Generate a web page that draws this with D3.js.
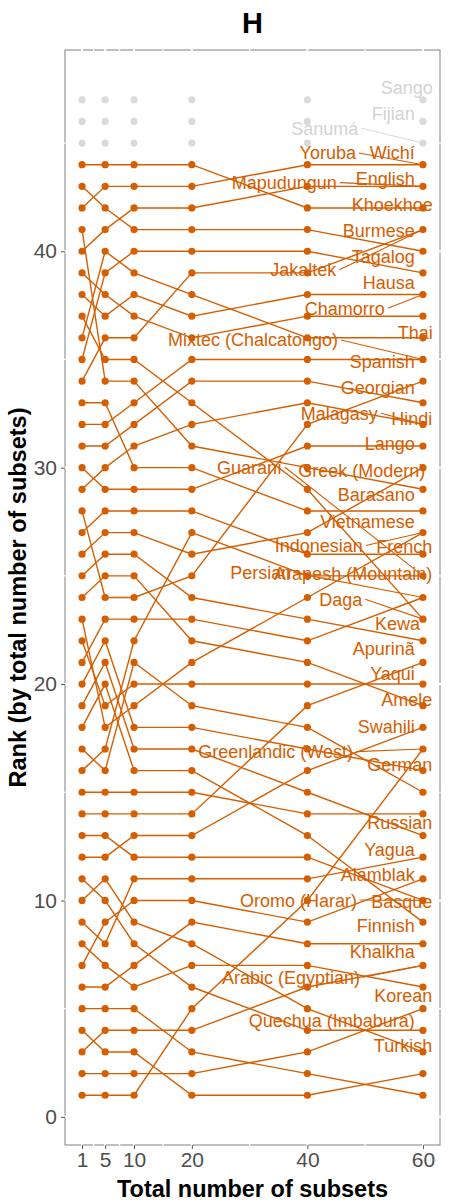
<!DOCTYPE html>
<html>
<head>
<meta charset="utf-8">
<script src="https://cdn.jsdelivr.net/npm/d3@7"></script>
<style>
  body { margin: 0; background: #fff; }
  text { font-family: "Liberation Sans", Arial, Helvetica, sans-serif; }
</style>
</head>
<body>
<svg id="chart" width="449" height="1203"></svg>
<script>
// Total number of subsets sampled (x positions)
const subsetTotals = [1, 5, 10, 20, 40, 60];

// Languages, ordered by their rank at 60 subsets
const languages = [
  "Yoruba", "Mapudungun", "Wichí", "Jakaltek", "English", "Khoekhoe", "Chamorro",
  "Burmese", "Tagalog", "Mixtec (Chalcatongo)", "Hausa", "Thai", "Malagasy", "Spanish",
  "Georgian", "Hindi", "Lango", "Indonesian", "Greek (Modern)", "Guaraní", "Persian",
  "Daga", "Barasano", "Vietnamese", "French", "Arapesh (Mountain)", "Kewa",
  "Greenlandic (West)", "Apurinã", "Yaqui", "Amele", "Swahili", "German", "Russian",
  "Oromo (Harar)", "Yagua", "Alamblak", "Arabic (Egyptian)", "Basque", "Finnish",
  "Khalkha", "Korean", "Quechua (Imbabura)", "Turkish"
];

// Rank of each language for each total number of subsets
const rankAt1  = [42,40,44,34,43,35,38,39,36,32,28,31,29,30,26,41,33,23,27,16,21,37,25,14,22,24,12, 1,20,17,15,19, 9, 7,13,18, 6, 3, 8, 2,11,10, 4, 5];
const rankAt5  = [43,41,44,36,42,39,37,38,40,32,24,31,30,29,27,34,33,18,28,17,23,35,26,14,19,25,12, 1,22,16,15,21, 8, 9,13,20, 6, 4, 7, 2,10,11, 3, 5];
const rankAt10 = [43,42,44,36,41,40,38,37,39,33,24,32,31,29,27,34,30,19,28,22,23,35,26,14,20,25,13, 1,18,21,15,17,11,10,12,16, 7, 4, 6, 2, 8, 9, 3, 5];
const rankAt20 = [43,42,44,39,41,40,37,36,38,35,25,34,32,29,26,31,30,21,28,27,23,33,24,14,20,22,13, 5,18,19,15,17,11,10,12,16, 9, 4, 7, 2, 6, 8, 1, 3];
const rankAt40 = [44,43,42,39,41,40,38,37,36,35,32,34,33,31,27,30,28,24,26,25,22,29,23,19,20,21,16,10,17,18,14,15,11, 9,12,13, 8, 6, 7, 3, 4, 5, 1, 2];
const rankAt60 = [44,43,42,41,40,39,38,37,36,35,34,33,32,31,30,29,28,27,26,25,24,23,22,21,20,19,18,17,16,15,14,13,12,11,10, 9, 8, 7, 6, 5, 4, 3, 2, 1];

// Languages shown in grey, with a fixed rank across all totals
const greyLanguages = ["Sanumá", "Fijian", "Sango"];
const greyRanks = [45, 46, 47];

// Repelled label anchors (right end of each label, in data units)
const labelX = [48.4,45.1,58.6,45.0,58.6,61.7,53.4,58.6,58.6,45.3,58.6,61.7,52.2,58.6,
  58.6,61.6,58.6,49.6,60.4,35.6,37.2,49.5,58.6,58.6,61.6,61.6,59.5,
  47.9,58.6,58.6,61.6,58.6,61.6,61.6,48.6,58.6,58.6,49.1,61.6,58.6,58.6,61.6,58.6,61.6];
const labelY = [44.54,43.17,44.54,39.14,43.38,42.14,37.37,40.98,39.75,35.90,38.55,36.24,32.51,34.90,
  33.72,32.28,31.13,26.40,29.89,30.02,25.15,23.92,28.74,27.50,26.35,25.12,22.81,
  16.88,21.65,20.50,19.27,18.06,16.26,13.60,10.02,12.37,11.18,6.45,9.94,8.82,7.63,5.63,4.43,3.32];
const greyLabelX = [48.8, 58.6, 61.7];
const greyLabelY = [45.68, 46.35, 47.58];

const orange = "#D55E00";
const grey = "#DADADA";

const svg = d3.select("#chart");
const x = d3.scaleLinear().domain([-1.95, 62.95]).range([65, 440]);
const y = d3.scaleLinear().domain([-1.3, 49.3]).range([1145, 50]);

// Panel border, with the white grid cutting through it
svg.append("rect")
  .attr("x", 65).attr("y", 50).attr("width", 375).attr("height", 1095)
  .attr("fill", "none").attr("stroke", "#8c8c8c").attr("stroke-width", 1.1);

const gridG = svg.append("g").attr("stroke", "#fff");
[1, 5, 10, 20, 40, 60, 3, 7.5, 15, 30, 50].forEach(v => {
  gridG.append("line").attr("x1", x(v)).attr("x2", x(v)).attr("y1", 48).attr("y2", 1147)
    .attr("stroke-width", v === 3 || v === 7.5 || v === 15 || v === 30 || v === 50 ? 1.2 : 2);
});
[0, 10, 20, 30, 40, 5, 15, 25, 35, 45].forEach(v => {
  gridG.append("line").attr("y1", y(v)).attr("y2", y(v)).attr("x1", 63).attr("x2", 442)
    .attr("stroke-width", v % 10 === 5 ? 1.2 : 2);
});

// Axes
const xAxis = svg.append("g").attr("transform", "translate(0,1145)")
  .call(d3.axisBottom(x).tickValues(subsetTotals).tickSize(4).tickPadding(3));
const yAxis = svg.append("g").attr("transform", "translate(65,0)")
  .call(d3.axisLeft(y).tickValues([0, 10, 20, 30, 40]).tickSize(4).tickPadding(4));
[xAxis, yAxis].forEach(g => {
  g.select(".domain").remove();
  g.selectAll(".tick line").attr("stroke", "#555").attr("stroke-width", 1);
  g.selectAll(".tick text").attr("fill", "#4d4d4d").style("font-size", "21px")
    .style("font-family", '"Liberation Sans", Arial, sans-serif');
});

// Titles
svg.append("text").attr("x", 252.5).attr("y", 33).attr("text-anchor", "middle")
  .style("font-size", "29px").style("font-weight", "bold").text("H");
svg.append("text").attr("x", 252.5).attr("y", 1197).attr("text-anchor", "middle")
  .style("font-size", "23.5px").style("font-weight", "bold").text("Total number of subsets");
svg.append("text").attr("transform", "translate(26,597.5) rotate(-90)").attr("text-anchor", "middle")
  .style("font-size", "23.5px").style("font-weight", "bold").text("Rank (by total number of subsets)");

// Rank trajectories
const rankCols = [rankAt1, rankAt5, rankAt10, rankAt20, rankAt40, rankAt60];
const line = d3.line().x(d => x(d[0])).y(d => y(d[1]));
const series = languages.map((name, i) => ({
  name,
  values: subsetTotals.map((t, j) => [t, rankCols[j][i]])
}));

// Grey points (no trajectories)
const greyPts = [];
greyLanguages.forEach((name, i) => subsetTotals.forEach(t => greyPts.push([t, greyRanks[i]])));
svg.append("g").selectAll("circle").data(greyPts).join("circle")
  .attr("cx", d => x(d[0])).attr("cy", d => y(d[1])).attr("r", 3.6).attr("fill", grey);

svg.append("g").selectAll("path").data(series).join("path")
  .attr("d", d => line(d.values)).attr("fill", "none")
  .attr("stroke", orange).attr("stroke-width", 1.4);

svg.append("g").selectAll("circle")
  .data(series.flatMap(s => s.values)).join("circle")
  .attr("cx", d => x(d[0])).attr("cy", d => y(d[1])).attr("r", 3.6).attr("fill", orange);

// Label connectors for labels pushed away from their end point
const segG = svg.append("g").attr("stroke-width", 1.1);
languages.forEach((name, i) => {
  const lx = x(labelX[i]), px = x(60), py = y(rankAt60[i]);
  if (px - lx > 20) {
    segG.append("line").attr("x1", lx + 3).attr("y1", y(labelY[i]))
      .attr("x2", px).attr("y2", py).attr("stroke", orange);
  }
});
greyLanguages.forEach((name, i) => {
  const lx = x(greyLabelX[i]), px = x(60), py = y(greyRanks[i]);
  if (px - lx > 20) {
    segG.append("line").attr("x1", lx + 3).attr("y1", y(greyLabelY[i]))
      .attr("x2", px).attr("y2", py).attr("stroke", grey);
  }
});

// Labels
svg.append("g").selectAll("text").data(languages).join("text")
  .attr("x", (d, i) => x(labelX[i])).attr("y", (d, i) => y(labelY[i]))
  .attr("dy", "0.36em").attr("text-anchor", "end")
  .attr("fill", orange).style("font-size", "18px").text(d => d);
svg.append("g").selectAll("text").data(greyLanguages).join("text")
  .attr("x", (d, i) => x(greyLabelX[i])).attr("y", (d, i) => y(greyLabelY[i]))
  .attr("dy", "0.36em").attr("text-anchor", "end")
  .attr("fill", "#D3D3D3").style("font-size", "18px").text(d => d);
</script>
</body>
</html>
